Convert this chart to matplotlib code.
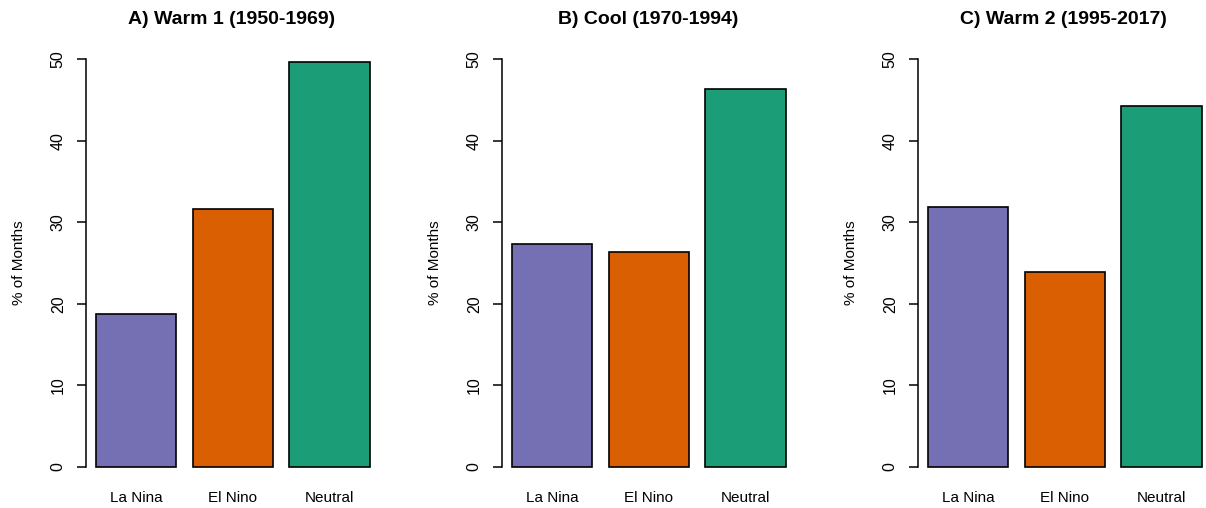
import matplotlib
matplotlib.use("Agg")
import matplotlib.pyplot as plt

# -----------------------
# Data (% of months in each ENSO phase)
# -----------------------
phases = ["La Nina", "El Nino", "Neutral"]
titles = ["A) Warm 1 (1950-1969)", "B) Cool (1970-1994)", "C) Warm 2 (1995-2017)"]
warm1 = [18.75, 31.67, 49.58]
cool = [27.33, 26.33, 46.33]
warm2 = [31.88, 23.91, 44.20]
colors = ["#7570B3", "#D95F02", "#1B9E77"]

plt.rcParams["font.family"] = ["Liberation Sans", "DejaVu Sans"]

W, H = 1206, 508
fig = plt.figure(figsize=(W / 100, H / 100), dpi=100)

# R-style barplot geometry: width 1, space 0.2
lefts = [0.2, 1.4, 2.6]
centers = [l + 0.5 for l in lefts]
x0, x1 = 0.076, 3.7
px_per_unit = 80.5
ax_w = (x1 - x0) * px_per_unit

for i, (title, vals) in enumerate(zip(titles, [warm1, cool, warm2])):
    left_px = 86 + 416 * i
    ax = fig.add_axes([left_px / W, (H - 467) / H, ax_w / W, (467 - 59) / H])
    ax.bar(centers, vals, width=1.0, color=colors, edgecolor="black",
           linewidth=1.2, clip_on=False)
    ax.set_xlim(x0, x1)
    ax.set_ylim(0, 50)

    for s in ["top", "right", "bottom"]:
        ax.spines[s].set_visible(False)
    ax.spines["left"].set_linewidth(1.1)

    ax.set_yticks([0, 10, 20, 30, 40, 50])
    ax.set_yticklabels(["0", "10", "20", "30", "40", "50"], rotation=90,
                       va="center", fontsize=11.5)
    ax.tick_params(axis="y", length=6.5, width=1.1, pad=8)
    ax.set_xticks(centers)
    ax.set_xticklabels(phases, fontsize=11)
    ax.tick_params(axis="x", length=0, pad=17)

    ax.set_ylabel("% of Months", fontsize=11)
    ax.yaxis.set_label_coords(-0.205, 0.5)
    ax.set_title(title, fontsize=14, fontweight="bold", pad=25)

fig.savefig("out.png", dpi=100)
